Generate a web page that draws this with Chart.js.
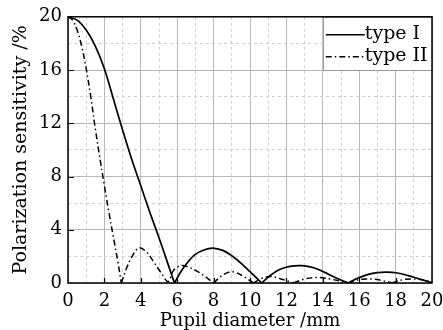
<!DOCTYPE html>
<html>
<head>
<meta charset="utf-8">
<script src="https://cdn.jsdelivr.net/npm/chart.js@4/dist/chart.umd.min.js"></script>
<style>
  html, body { margin: 0; padding: 0; background: #fff; }
  #wrap { width: 443px; height: 330px; }
</style>
</head>
<body>
<div id="wrap"><canvas id="chart" width="443" height="330"></canvas></div>
<script>
// values
const typeIx = [0, 0.5, 1, 1.5, 2, 2.5, 3, 3.5, 4, 4.5, 5, 5.5, 5.85, 6.2, 6.6, 7.0, 7.5, 7.95, 8.5, 9.0, 9.5, 10.0, 10.65, 11.1, 11.6, 12.2, 12.85, 13.5, 14.1, 14.7, 15.4, 15.9, 16.5, 17.0, 17.5, 18.1, 18.7, 19.3, 20];
const typeIy = [20, 19.75, 19.0, 17.8, 16.1, 13.8, 11.5, 9.3, 7.3, 5.3, 3.4, 1.4, 0, 0.85, 1.6, 2.15, 2.5, 2.62, 2.45, 2.05, 1.5, 0.85, 0, 0.55, 1.0, 1.25, 1.3, 1.15, 0.8, 0.4, 0, 0.35, 0.65, 0.78, 0.82, 0.75, 0.55, 0.3, 0.03];

const typeIIx = [0, 0.25, 0.5, 0.75, 1, 1.25, 1.5, 1.75, 2, 2.25, 2.5, 2.75, 2.93, 3.2, 3.5, 3.9, 4.3, 4.7, 5.1, 5.5, 5.8, 6.2, 6.6, 7.2, 7.6, 8.0, 8.5, 9.0, 9.5, 10.2, 10.7, 11.2, 11.7, 12.4, 13.0, 13.7, 14.4, 15.4, 16.0, 16.6, 17.2, 17.8, 18.4, 19.0, 19.6, 20];
const typeIIy = [20, 19.75, 19.0, 17.8, 16.1, 14.0, 11.6, 9.4, 7.3, 5.3, 3.4, 1.5, 0, 1.05, 1.95, 2.64, 2.35, 1.6, 0.8, 0.1, 0.95, 1.3, 1.2, 0.8, 0.42, 0, 0.6, 0.85, 0.6, 0, 0.38, 0.48, 0.3, 0, 0.3, 0.42, 0.3, 0, 0.26, 0.3, 0.2, 0, 0.25, 0.3, 0.2, 0.05];

const xTicks = [0, 2, 4, 6, 8, 10, 12, 14, 16, 18, 20];
const yTicks = [0, 4, 8, 12, 16, 20];
const seriesNames = ['type I', 'type II'];

const FONT = 'DejaVu Serif';

// break the line at every zero so the dips stay sharp
function toPoints(xs, ys) {
  const pts = [];
  xs.forEach((x, i) => {
    const p = { x: x, y: ys[i] };
    pts.push(p);
    if (ys[i] === 0 && i > 0 && i < xs.length - 1) {
      pts.push({ x: x, y: null });
      pts.push({ x: x, y: ys[i] });
    }
  });
  return pts;
}

const frameAndLegend = {
  id: 'frameAndLegend',
  afterDatasetsDraw(chart) {
    const { ctx, chartArea: a, scales } = chart;
    const x = scales.x, y = scales.y;
    ctx.save();

    // inward tick marks
    ctx.strokeStyle = '#000';
    ctx.lineWidth = 1.2;
    ctx.beginPath();
    xTicks.slice(1, -1).forEach(v => {
      const px = Math.round(x.getPixelForValue(v)) + 0.5;
      ctx.moveTo(px, a.bottom);
      ctx.lineTo(px, a.bottom - 5);
    });
    yTicks.slice(1, -1).forEach(v => {
      const py = Math.round(y.getPixelForValue(v)) + 0.5;
      ctx.moveTo(a.left, py);
      ctx.lineTo(a.left + 6, py);
    });
    ctx.stroke();

    // legend box
    const lx0 = x.getPixelForValue(14), lx1 = x.getPixelForValue(20);
    const ly0 = y.getPixelForValue(20), ly1 = y.getPixelForValue(16);
    ctx.fillStyle = '#fff';
    ctx.fillRect(lx0, ly0, lx1 - lx0, ly1 - ly0);
    ctx.strokeStyle = '#999';
    ctx.lineWidth = 1;
    ctx.strokeRect(Math.round(lx0) + 0.5, Math.round(ly0) + 0.5, Math.round(lx1 - lx0), Math.round(ly1 - ly0));

    const rows = [ly0 + 18, ly0 + 40];
    chart.data.datasets.forEach((ds, i) => {
      ctx.strokeStyle = '#000';
      ctx.lineWidth = 1.6;
      ctx.setLineDash(ds.borderDash || []);
      ctx.beginPath();
      ctx.moveTo(lx0 + 3, rows[i]);
      ctx.lineTo(lx0 + 42, rows[i]);
      ctx.stroke();
      ctx.setLineDash([]);
      ctx.fillStyle = '#000';
      ctx.font = '19px "' + FONT + '"';
      ctx.textBaseline = 'middle';
      ctx.fillText(seriesNames[i], lx0 + 42, rows[i] - 1);
    });

    // black frame around the plot
    ctx.strokeStyle = '#000';
    ctx.lineWidth = 1.5;
    ctx.strokeRect(a.left, a.top, a.right - a.left, a.bottom - a.top);
    ctx.restore();
  }
};

new Chart(document.getElementById('chart'), {
  type: 'line',
  data: {
    datasets: [
      {
        label: seriesNames[0],
        data: toPoints(typeIx, typeIy),
        borderColor: '#000',
        borderWidth: 1.7,
        pointRadius: 0,
        tension: 0.35,
        fill: false
      },
      {
        label: seriesNames[1],
        data: toPoints(typeIIx, typeIIy),
        borderColor: '#000',
        borderWidth: 1.5,
        borderDash: [6, 3, 1.5, 3],
        pointRadius: 0,
        tension: 0.35,
        fill: false
      }
    ]
  },
  options: {
    responsive: false,
    animation: false,
    spanGaps: false,
    layout: { padding: { top: 16, right: 11, left: 0, bottom: 0 } },
    plugins: { legend: { display: false }, tooltip: { enabled: false } },
    scales: {
      x: {
        type: 'linear', min: 0, max: 20,
        afterBuildTicks: s => { s.ticks = xTicks.map(v => ({ value: v })); },
        afterFit: s => { s.height = 47; s.paddingRight = 11; },
        ticks: { color: '#000', padding: 8, font: { family: FONT, size: 18 }, maxRotation: 0 },
        grid: { color: '#b8b8b8', lineWidth: 1, drawTicks: false },
        border: { display: false },
        title: { display: true, text: 'Pupil diameter /mm', color: '#000', font: { family: FONT, size: 18 }, padding: { top: 0, bottom: -2 } }
      },
      xMinor: {
        type: 'linear', position: 'bottom', min: 0, max: 20,
        ticks: { stepSize: 1, display: false },
        afterFit: s => { s.height = 0; },
        grid: { color: c => (c.tick && c.tick.value % 2 !== 0) ? '#cfcfcf' : 'rgba(0,0,0,0)', drawTicks: false },
        border: { display: false, dash: [3, 3] }
      },
      y: {
        type: 'linear', min: 0, max: 20,
        afterBuildTicks: s => { s.ticks = yTicks.map(v => ({ value: v })); },
        afterFit: s => { s.width = 68; },
        ticks: { color: '#000', padding: 6, font: { family: FONT, size: 18 } },
        grid: { color: '#b8b8b8', lineWidth: 1, drawTicks: false },
        border: { display: false },
        title: { display: true, text: 'Polarization sensitivity /%', color: '#000', font: { family: FONT, size: 19 }, padding: { top: 10, bottom: 0 } }
      },
      yMinor: {
        type: 'linear', position: 'left', min: 0, max: 20,
        ticks: { stepSize: 2, display: false },
        afterFit: s => { s.width = 0; },
        grid: { color: c => (c.tick && c.tick.value % 4 !== 0) ? '#cfcfcf' : 'rgba(0,0,0,0)', drawTicks: false },
        border: { display: false, dash: [3, 3] }
      }
    }
  },
  plugins: [frameAndLegend]
});
</script>
</body>
</html>
